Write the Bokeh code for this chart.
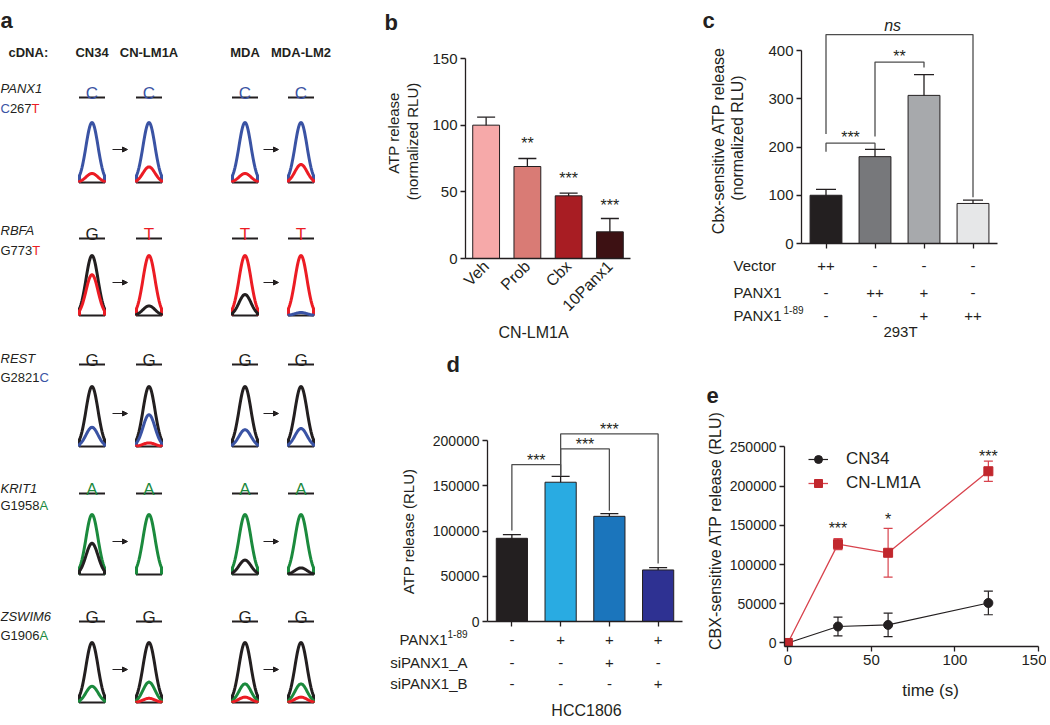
import math
import numpy as np
from bokeh.plotting import figure
from bokeh.models import (ColumnDataSource, FactorRange, Range1d, Whisker, TeeHead, Label,
                          FixedTicker, BasicTickFormatter, Arrow, NormalHead, Legend, LegendItem)
from bokeh.layouts import row, column
from bokeh.embed import file_html
from bokeh.resources import INLINE

FONT = "Liberation Sans"
INK = "#231f20"
BRACKET = "#4d4d4d"

# ------------------------------------------------------------------ data
# panel a : Sanger chromatograms
samples = ["CN34", "CN-LM1A", "MDA", "MDA-LM2"]
genes = ["PANX1", "RBFA", "REST", "KRIT1", "ZSWIM6"]
mutations = [("C", "267", "T"), ("G", "773", "T"), ("G", "2821", "C"),
             ("G", "1958", "A"), ("G", "1906", "A")]
called_bases = [["C", "C", "C", "C"], ["G", "T", "T", "T"], ["G", "G", "G", "G"],
                ["A", "A", "A", "A"], ["G", "G", "G", "G"]]
peaks_panx1 = {"C": [1.0, 1.0, 1.0, 1.0], "T": [0.15, 0.26, 0.15, 0.30]}
peaks_rbfa = {"G": [1.0, 0.16, 0.35, 0.0], "T": [0.68, 1.0, 1.0, 1.0], "C": [0.0, 0.0, 0.0, 0.05]}
peaks_rest = {"G": [1.0, 1.0, 1.0, 1.0], "C": [0.32, 0.53, 0.28, 0.30], "T": [0.0, 0.06, 0.0, 0.0]}
peaks_krit1 = {"A": [1.0, 1.0, 1.0, 1.0], "G": [0.52, 0.0, 0.24, 0.11]}
peaks_zswim6 = {"G": [1.0, 1.0, 1.0, 1.0], "A": [0.27, 0.34, 0.31, 0.31], "T": [0.0, 0.07, 0.09, 0.09]}
peak_heights = [peaks_panx1, peaks_rbfa, peaks_rest, peaks_krit1, peaks_zswim6]
BASE_COLORS = {"A": "#1b8a3d", "C": "#3a53a4", "G": INK, "T": "#ec1c24"}

# panel b
b_cats = ["Veh", "Prob", "Cbx", "10Panx1"]
b_vals = [100, 69, 47, 20]
b_err = [6, 6, 2, 10]
b_colors = ["#f6a9a9", "#d97b75", "#a81d23", "#3d1113"]
b_stars = ["", "**", "***", "***"]
b_star_y = [0, 86, 60, 40]

# panel c
c_cats = ["Vector", "PANX1", "PANX1 + PANX1(1-89)", "PANX1(1-89)"]
c_vals = [100, 180, 307, 83]
c_err = [12, 15, 43, 7]
c_colors = ["#231f20", "#77787b", "#a7a9ac", "#e6e7e8"]
c_rows = [("Vector", ""), ("PANX1", ""), ("PANX1", "1-89")]
c_table = [["++", "-", "-", "-"], ["-", "++", "+", "-"], ["-", "-", "+", "++"]]
# brackets: left bar, right bar, top, left end, right end
c_brackets = [(0, 1, 208, 190, 196), (1, 2, 376, 222, 365), (0, 3, 433, 227, 96)]
c_bracket_text = ["***", "**", "ns"]

# panel d
d_cats = ["Control", "PANX1(1-89)", "PANX1(1-89) + siPANX1_A", "PANX1(1-89) + siPANX1_B"]
d_vals = [92000, 154000, 116300, 57000]
d_err = [4000, 6500, 3000, 2500]
d_colors = ["#231f20", "#29abe2", "#1b75bc", "#2e3192"]
d_rows = [("PANX1", "1-89"), ("siPANX1_A", ""), ("siPANX1_B", "")]
d_table = [["-", "+", "+", "+"], ["-", "-", "+", "-"], ["-", "-", "-", "+"]]
d_brackets = [(0, 1, 173500, 100500, 161300), (1, 2, 190800, 161300, 122600),
              (1, 3, 207400, 161300, 64000)]
d_bracket_text = ["***", "***", "***"]

# panel e
e_time = [0, 30, 60, 120]
e_cn34 = [0, 21000, 23000, 51000]
e_cn34_err = [0, 12000, 15000, 15000]
e_lm1a = [0, 126000, 115000, 219000]
e_lm1a_err = [0, 7000, 31000, 13000]
e_stars = ["", "***", "*", "***"]
e_star_y = [0, 145500, 157000, 237700]


# ------------------------------------------------------------------ helpers
def new_fig(**kw):
    p = figure(output_backend="svg", toolbar_location=None, frame_align=False, **kw)
    p.outline_line_color = None
    p.border_fill_color = "white"
    p.background_fill_color = "white"
    p.grid.visible = False
    return p


def tile(x0, x1, y0, y1):
    """A text-only figure whose data coordinates are page pixels."""
    return new_fig(x_range=Range1d(x0, x1), y_range=Range1d(y1, y0), frame_width=x1 - x0,
                   frame_height=y1 - y0, min_border=0, x_axis_type=None, y_axis_type=None)


def style_axes(p, size="15px"):
    for ax in p.axis:
        ax.axis_line_color = INK
        ax.axis_line_width = 1.3
        ax.major_tick_line_color = INK
        ax.major_tick_line_width = 1.3
        ax.major_tick_out = 5
        ax.major_tick_in = 0
        ax.minor_tick_line_color = None
        ax.major_label_text_font = FONT
        ax.major_label_text_font_size = size
        ax.major_label_text_color = INK
        ax.major_label_standoff = 3


def hide_x_labels(p, ticks):
    p.xaxis.ticker = FixedTicker(ticks=ticks)
    p.xaxis.major_label_overrides = {t: "" for t in ticks}
    p.xaxis.major_label_text_font_size = "0px"
    p.xaxis.major_label_standoff = 0


def lab(p, x, y, text, size=15, color=INK, align="center", baseline="middle",
        style="normal", angle=0.0):
    p.add_layout(Label(x=x, y=y, text=text, text_font=FONT, text_font_size=f"{size}px",
                       text_color=color, text_align=align, text_baseline=baseline,
                       text_font_style=style, angle=angle))


def bars(p, xs, vals, errs, colors, width, cap):
    src = ColumnDataSource(dict(x=xs, top=vals,
                                upper=[v + e for v, e in zip(vals, errs)],
                                lower=[v - e for v, e in zip(vals, errs)],
                                color=colors))
    p.vbar(x="x", top="top", width=width, fill_color="color", line_color=INK,
           line_width=1, source=src)
    p.add_layout(Whisker(base="x", upper="upper", lower="lower", source=src,
                         line_color=INK, line_width=1.3,
                         upper_head=TeeHead(size=cap, line_color=INK, line_width=1.3),
                         lower_head=TeeHead(size=cap, line_color=INK, line_width=1.3)))


def brackets(p, xs, spec):
    bx, by = [], []
    for i, j, top, le, re in spec:
        bx.append([xs[i], xs[i], xs[j], xs[j]])
        by.append([le, top, top, re])
    p.multi_line(xs=bx, ys=by, line_color=BRACKET, line_width=1.3)


# ------------------------------------------------------------------ panel a
pa = tile(0, 340, 0, 724)
col_x = [91.5, 148.5, 244.5, 300.5]
row_base = [182, 315, 446, 574, 702]
row_line = [97, 238, 364, 493, 621]
row_gene = [88, 230, 358, 488, 616]
row_mut = [108, 250, 377, 505, 635]
PEAK_H, HW, SIG = 60.0, 12.5, 6.0
xs_shape = np.linspace(-HW, HW, 41)
shape = np.exp(-0.5 * (xs_shape / SIG) ** 2)

lab(pa, 0, 20, "a", 22, style="bold", align="left", baseline="alphabetic")
lab(pa, 8, 52, "cDNA:", 13, style="bold", align="left")
for c, s in enumerate(samples):
    lab(pa, col_x[c], 52, s, 13, style="bold")

w13 = {"C": 0.722 * 13, "G": 0.778 * 13, "d": 0.556 * 13}
for r, g in enumerate(genes):
    base = row_base[r]
    lab(pa, 0, row_gene[r], g, 13, style="italic", align="left")
    first, num, last = mutations[r]
    x1 = w13[first]
    x2 = x1 + w13["d"] * len(num)
    lab(pa, 0, row_mut[r], first, 13, color=BASE_COLORS[first], align="left")
    lab(pa, x1, row_mut[r], num, 13, align="left")
    lab(pa, x2, row_mut[r], last, 13, color=BASE_COLORS[last], align="left")
    for c in range(4):
        cx = col_x[c]
        b = called_bases[r][c]
        lab(pa, cx, row_line[r] - 4, b, 17, color=BASE_COLORS[b], baseline="alphabetic")
        pa.line([cx - HW - 0.5, cx + HW + 0.5], [row_line[r], row_line[r]], line_color=INK, line_width=2)
        pa.line([cx - HW - 0.5, cx + HW + 0.5], [base, base], line_color=INK, line_width=2)
        traces = sorted([(bb, hs[c]) for bb, hs in peak_heights[r].items() if hs[c] > 0],
                        key=lambda t: -t[1])
        for bb, h in traces:
            xx = np.concatenate([[cx - HW], cx + xs_shape, [cx + HW]])
            yy = np.concatenate([[base], base - h * PEAK_H * shape, [base]])
            pa.line(xx, yy, line_color=BASE_COLORS[bb], line_width=3, line_join="round")
arrow_src = ColumnDataSource(dict(
    x0=[112, 263] * 5, x1=[127, 278] * 5,
    y=[yb - 33 for yb in row_base for _ in range(2)]))
pa.add_layout(Arrow(end=NormalHead(size=5, fill_color=INK, line_color=INK, line_width=1),
                    x_start="x0", y_start="y", x_end="x1", y_end="y", source=arrow_src,
                    line_color=INK, line_width=1))

# ------------------------------------------------------------------ panel b
tb_left = tile(340, 426, 0, 340)
lab(tb_left, 384, 22, "b", 22, style="bold", align="left", baseline="alphabetic")
lab(tb_left, 393, 132.5, "ATP release", 15, angle=math.pi / 2)
lab(tb_left, 412, 141, "(normalized RLU)", 15, angle=math.pi / 2)

pb = new_fig(x_range=FactorRange(*b_cats, range_padding=0), y_range=Range1d(0, 150),
             frame_width=165, frame_height=200, min_border_left=39, min_border_right=10,
             min_border_top=58, min_border_bottom=66)
bars(pb, b_cats, b_vals, b_err, b_colors, 0.65, 18)
style_axes(pb)
pb.yaxis.ticker = FixedTicker(ticks=[0, 50, 100, 150])
pb.xaxis.major_tick_out = 0
pb.xaxis.major_label_orientation = math.pi / 4
pb.xaxis.major_label_text_font_size = "16px"
pb.xaxis.major_label_standoff = 5
for i, s in enumerate(b_stars):
    if s:
        lab(pb, i + 0.5, b_star_y[i], s, 16)

tb_bot = tile(426, 640, 324, 340)
lab(tb_bot, 533, 332, "CN-LM1A", 16)
panel_b = row(tb_left, column(pb, tb_bot))

# ------------------------------------------------------------------ panel c
tc_left = tile(640, 764, 0, 255)
lab(tc_left, 702, 20, "c", 22, style="bold", align="left", baseline="alphabetic")
lab(tc_left, 718, 140, "Cbx-sensitive ATP release", 16, angle=math.pi / 2)
lab(tc_left, 737, 137.5, "(normalized RLU)", 16, angle=math.pi / 2)

c_x = [i + 0.5 for i in range(len(c_cats))]
pc = new_fig(x_range=Range1d(0, len(c_cats)), y_range=Range1d(0, 470.5),
             frame_width=196, frame_height=227, min_border_left=37, min_border_right=49,
             min_border_top=16, min_border_bottom=12)
bars(pc, c_x, c_vals, c_err, c_colors, 0.65, 20)
brackets(pc, c_x, c_brackets)
style_axes(pc)
pc.yaxis.ticker = FixedTicker(ticks=[0, 100, 200, 300, 400])
pc.yaxis.bounds = (0, 400)
hide_x_labels(pc, c_x)
for k, (i, j, top, le, re) in enumerate(c_brackets):
    if c_bracket_text[k] == "ns":
        lab(pc, 1.86, top + 19, "ns", 16, style="italic")
    else:
        lab(pc, (c_x[i] + c_x[j]) / 2, top + 11, c_bracket_text[k], 16)

tc_bot = tile(640, 1046, 255, 340)
c_page_x = [801 + 49 * x for x in c_x]
row_py_c = [265, 292, 315]
for r, (name, sup) in enumerate(c_rows):
    lab(tc_bot, 733, row_py_c[r], name, 15, align="left")
    if sup:
        lab(tc_bot, 783, row_py_c[r] - 6, sup, 10, align="left")
    for i, sym in enumerate(c_table[r]):
        lab(tc_bot, c_page_x[i], row_py_c[r], sym, 15)
lab(tc_bot, 900, 331, "293T", 15)
panel_c = column(row(tc_left, pc), tc_bot)

# ------------------------------------------------------------------ panel d
td_top = tile(340, 700, 340, 380)
lab(td_top, 446, 364, "d", 22, style="bold", align="left", baseline="alphabetic")
td_left = tile(340, 420, 380, 628)
lab(td_left, 408, 531, "ATP release (RLU)", 15, angle=math.pi / 2)

d_x = [i + 0.5 for i in range(len(d_cats))]
pd_ = new_fig(x_range=Range1d(0, len(d_cats)), y_range=Range1d(0, 230000),
              frame_width=195, frame_height=208, min_border_left=67, min_border_right=18,
              min_border_top=33, min_border_bottom=7)
bars(pd_, d_x, d_vals, d_err, d_colors, 0.64, 18)
brackets(pd_, d_x, d_brackets)
style_axes(pd_, "14px")
pd_.yaxis.ticker = FixedTicker(ticks=[0, 50000, 100000, 150000, 200000])
pd_.yaxis.formatter = BasicTickFormatter(use_scientific=False)
pd_.yaxis.bounds = (0, 200000)
hide_x_labels(pd_, d_x)
for k, (i, j, top, le, re) in enumerate(d_brackets):
    lab(pd_, (d_x[i] + d_x[j]) / 2, top + 5000, d_bracket_text[k], 16)

td_bot = tile(340, 700, 628, 724)
d_page_x = [487 + 48.75 * x for x in d_x]
row_py_d = [639, 662, 683]
for r, (name, sup) in enumerate(d_rows):
    if sup:
        lab(td_bot, 447, row_py_d[r], name, 15, align="right")
        lab(td_bot, 467, row_py_d[r] - 6, sup, 10, align="right")
    else:
        lab(td_bot, 467, row_py_d[r], name, 15, align="right")
    for i, sym in enumerate(d_table[r]):
        lab(td_bot, d_page_x[i], row_py_d[r], sym, 15)
lab(td_bot, 586, 710, "HCC1806", 16)
panel_d = column(td_top, row(td_left, pd_), td_bot)

# ------------------------------------------------------------------ panel e
te_left = tile(700, 725, 340, 675)
lab(te_left, 706, 395, "e", 22, style="bold", align="left", baseline="alphabetic")
lab(te_left, 715, 530, "CBX-sensitive ATP release (RLU)", 16, angle=math.pi / 2)

pe = new_fig(x_range=Range1d(-2, 150), y_range=Range1d(-4500, 262000),
             frame_width=254, frame_height=209, min_border_left=59, min_border_right=8,
             min_border_top=97, min_border_bottom=29)
RED = "#c1272d"
RED_L = "#d8434d"
src1 = ColumnDataSource(dict(t=e_time, y=e_cn34,
                             up=[v + e for v, e in zip(e_cn34, e_cn34_err)],
                             lo=[v - e for v, e in zip(e_cn34, e_cn34_err)]))
src2 = ColumnDataSource(dict(t=e_time, y=e_lm1a,
                             up=[v + e for v, e in zip(e_lm1a, e_lm1a_err)],
                             lo=[v - e for v, e in zip(e_lm1a, e_lm1a_err)]))
l1 = pe.line("t", "y", source=src1, line_color=INK, line_width=1.2)
l2 = pe.line("t", "y", source=src2, line_color=RED_L, line_width=1.3)
pe.add_layout(Whisker(base="t", upper="up", lower="lo", source=src1, line_color=INK, line_width=1.2,
                      upper_head=TeeHead(size=9, line_color=INK, line_width=1.2),
                      lower_head=TeeHead(size=9, line_color=INK, line_width=1.2)))
pe.add_layout(Whisker(base="t", upper="up", lower="lo", source=src2, line_color=RED_L, line_width=1.2,
                      upper_head=TeeHead(size=9, line_color=RED_L, line_width=1.2),
                      lower_head=TeeHead(size=9, line_color=RED_L, line_width=1.2)))
m1 = pe.scatter("t", "y", source=src1, marker="circle", size=9, fill_color=INK, line_color=INK)
m2 = pe.scatter("t", "y", source=src2, marker="square", size=9, fill_color=RED, line_color=RED)
style_axes(pe)
pe.yaxis.major_label_text_font_size = "14px"
pe.yaxis.ticker = FixedTicker(ticks=[0, 50000, 100000, 150000, 200000, 250000])
pe.yaxis.formatter = BasicTickFormatter(use_scientific=False)
pe.xaxis.ticker = FixedTicker(ticks=[0, 50, 100, 150])
pe.yaxis.bounds = (-4500, 250000)
for i, s in enumerate(e_stars):
    if s:
        lab(pe, e_time[i], e_star_y[i], s, 16)
legend = Legend(items=[LegendItem(label="CN34", renderers=[l1, m1]),
                       LegendItem(label="CN-LM1A", renderers=[l2, m2])],
                location=(24, 153), label_text_font=FONT, label_text_font_size="17px",
                label_text_color=INK, glyph_width=20, glyph_height=20, label_height=20,
                spacing=4, padding=0, margin=0, border_line_color=None,
                background_fill_alpha=0, label_standoff=18)
pe.add_layout(legend)

te_bot = tile(700, 1046, 675, 724)
lab(te_bot, 930, 690, "time (s)", 17)
panel_e = column(row(te_left, pe), te_bot)

layout = row(pa, column(row(panel_b, panel_c), row(panel_d, panel_e)))
open("out.html", "w").write(file_html(layout, INLINE, title="ATP release panels"))
